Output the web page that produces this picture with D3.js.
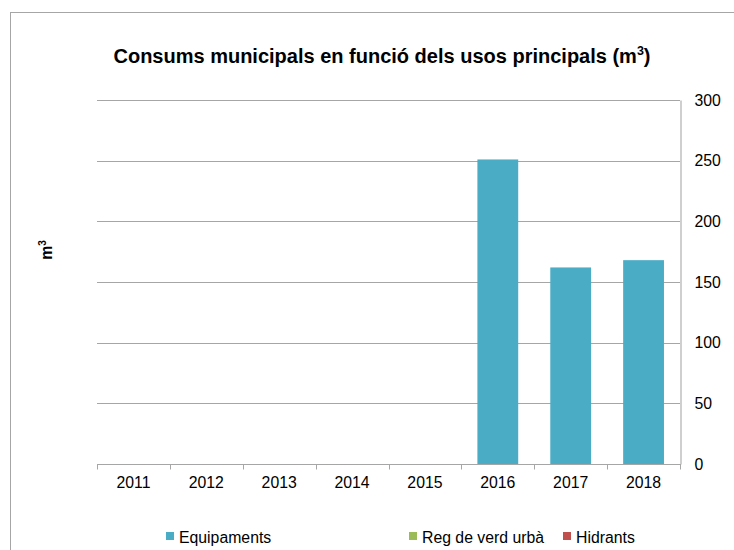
<!DOCTYPE html>
<html>
<head>
<meta charset="utf-8">
<script src="https://cdn.jsdelivr.net/npm/d3@7"></script>
<style>
  html, body { margin: 0; padding: 0; background: #fff; }
  svg { display: block; font-family: "Liberation Sans", Arial, sans-serif; }
</style>
</head>
<body>
<svg id="chart" width="734" height="550"></svg>
<script>
// Municipal water consumption by main use (m³)
const years = ["2011", "2012", "2013", "2014", "2015", "2016", "2017", "2018"];
const equipaments = [0, 0, 0, 0, 0, 251, 162, 168];
const regVerdUrba = [0, 0, 0, 0, 0, 0, 0, 0];
const hidrants = [0, 0, 0, 0, 0, 0, 0, 0];
const seriesNames = ["Equipaments", "Reg de verd urbà", "Hidrants"];
const seriesColors = ["#4BACC6", "#9BBB59", "#C0504D"];
const yTicks = [0, 50, 100, 150, 200, 250, 300];

const rows = years.map((y, i) => ({
  year: y,
  "Equipaments": equipaments[i],
  "Reg de verd urbà": regVerdUrba[i],
  "Hidrants": hidrants[i]
}));
const stacked = d3.stack().keys(seriesNames)(rows);

const svg = d3.select("#chart");
const m = { left: 97, right: 680, top: 100, bottom: 464 };
const fs = 15.8;

// outer frame
svg.append("rect")
  .attr("x", 10.5).attr("y", 12.5)
  .attr("width", 760).attr("height", 560)
  .attr("fill", "none").attr("stroke", "#A6A6A6").attr("stroke-width", 1);

const x = d3.scaleBand().domain(years).range([m.left, m.right]).paddingInner(0.44).paddingOuter(0.22);
const xEdge = d3.scaleBand().domain(years).range([m.left, m.right]);
const y = d3.scaleLinear().domain([0, 300]).range([m.bottom, m.top]);

// horizontal gridlines
svg.append("g").selectAll("line").data(yTicks.filter(t => t > 0)).join("line")
  .attr("x1", m.left).attr("x2", m.right)
  .attr("y1", d => Math.round(y(d)) + 0.5).attr("y2", d => Math.round(y(d)) + 0.5)
  .attr("stroke", "#A6A6A6").attr("stroke-width", 1);

// bars
svg.append("g").selectAll("g").data(stacked).join("g")
  .attr("fill", (d, i) => seriesColors[i])
  .selectAll("rect").data(d => d).join("rect")
  .attr("x", d => x(d.data.year))
  .attr("width", x.bandwidth())
  .attr("y", d => y(d[1]))
  .attr("height", d => y(d[0]) - y(d[1]));

// right value axis
const yAxis = d3.axisRight(y).tickValues(yTicks).tickSize(0).tickPadding(14);
const gy = svg.append("g").attr("transform", `translate(${m.right + 0.5},0)`).call(yAxis);
gy.select(".domain").attr("stroke", "#BFBFBF").attr("stroke-width", 1.5);
gy.selectAll("text").attr("font-size", fs).attr("fill", "#000");

// category axis
const xAxis = d3.axisBottom(xEdge).tickSize(0).tickPadding(12);
const gx = svg.append("g").attr("transform", `translate(0,${m.bottom + 0.5})`).call(xAxis);
gx.select(".domain").remove();
gx.selectAll("text").attr("font-size", fs).attr("fill", "#000");
gx.append("line").attr("x1", m.left).attr("x2", m.right + 1)
  .attr("stroke", "#A6A6A6").attr("stroke-width", 1);
gx.append("g").selectAll("line")
  .data(years.map(d => xEdge(d)).concat([m.right]))
  .join("line")
  .attr("x1", d => Math.round(d) + 0.5).attr("x2", d => Math.round(d) + 0.5)
  .attr("y1", 0).attr("y2", 5)
  .attr("stroke", "#A6A6A6");

// title
const title = svg.append("text")
  .attr("x", 382).attr("y", 63)
  .attr("text-anchor", "middle")
  .attr("font-size", 20).attr("font-weight", "bold").attr("fill", "#000");
title.append("tspan").text("Consums municipals en funció dels usos principals (m");
title.append("tspan").attr("font-size", 12.5).attr("dy", -8).text("3");
title.append("tspan").attr("dy", 8).text(")");

// value axis title
const yt = svg.append("text")
  .attr("transform", "translate(52,250) rotate(-90)")
  .attr("text-anchor", "middle")
  .attr("font-size", fs).attr("font-weight", "bold").attr("fill", "#000");
yt.append("tspan").text("m");
yt.append("tspan").attr("font-size", 10).attr("dy", -6).text("3");

// legend
const legendX = [166, 409, 563];
const lg = svg.append("g").selectAll("g").data(seriesNames).join("g")
  .attr("transform", (d, i) => `translate(${legendX[i]},537)`);
lg.append("rect").attr("x", 0).attr("y", -5).attr("width", 8).attr("height", 8)
  .attr("fill", (d, i) => seriesColors[i]);
lg.append("text").attr("x", 13).attr("y", 5.5)
  .attr("font-size", fs).attr("fill", "#000").text(d => d);
</script>
</body>
</html>
